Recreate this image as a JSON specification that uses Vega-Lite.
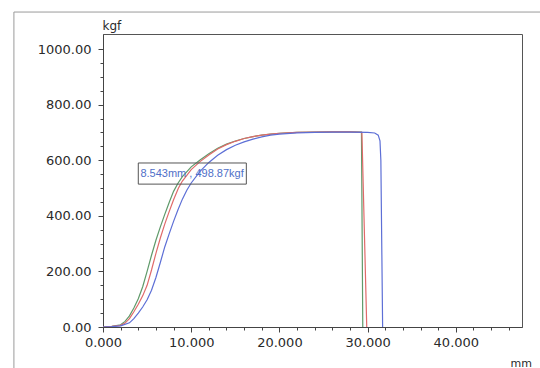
{
  "$schema": "https://vega.github.io/schema/vega-lite/v6.json",
  "width": 419,
  "height": 293,
  "autosize": {"type": "none"},
  "padding": {"left": 103, "top": 34, "right": 18, "bottom": 41},
  "background": "white",
  "config": {
    "view": {"stroke": "#555555", "strokeWidth": 1},
    "font": "DejaVu Sans",
    "axis": {
      "labelOverlap": false,
      "labelBound": false,
      "labelFlush": false,
      "labelFontSize": 13,
      "labelColor": "#2a2a2a",
      "tickColor": "#444444",
      "domainColor": "#444444",
      "grid": false,
      "titleFontWeight": "normal",
      "titleColor": "#2a2a2a",
      "titleAngle": 0,
      "titleAlign": "left",
      "titleBaseline": "alphabetic"
    },
    "axisX": {"labelPadding": 4, "titleFontSize": 11},
    "axisY": {"labelPadding": 7, "titleFontSize": 12}
  },
  "datasets": {
    "curves": [
      {"s": "green", "mm": 0, "kgf": 0}, {"s": "green", "mm": 1, "kgf": 2}, {"s": "green", "mm": 2, "kgf": 8}, {"s": "green", "mm": 2.5, "kgf": 20}, {"s": "green", "mm": 3, "kgf": 40}, {"s": "green", "mm": 3.5, "kgf": 68}, {"s": "green", "mm": 4, "kgf": 102}, {"s": "green", "mm": 4.5, "kgf": 145}, {"s": "green", "mm": 5, "kgf": 200}, {"s": "green", "mm": 5.5, "kgf": 258}, {"s": "green", "mm": 6, "kgf": 312}, {"s": "green", "mm": 6.5, "kgf": 360}, {"s": "green", "mm": 7, "kgf": 405}, {"s": "green", "mm": 7.5, "kgf": 448}, {"s": "green", "mm": 8, "kgf": 488}, {"s": "green", "mm": 8.5, "kgf": 517}, {"s": "green", "mm": 9, "kgf": 541}, {"s": "green", "mm": 10, "kgf": 576}, {"s": "green", "mm": 11, "kgf": 601}, {"s": "green", "mm": 12, "kgf": 623}, {"s": "green", "mm": 13, "kgf": 643}, {"s": "green", "mm": 14, "kgf": 658}, {"s": "green", "mm": 15, "kgf": 669}, {"s": "green", "mm": 16, "kgf": 678}, {"s": "green", "mm": 17, "kgf": 685}, {"s": "green", "mm": 18, "kgf": 690}, {"s": "green", "mm": 19, "kgf": 694}, {"s": "green", "mm": 20, "kgf": 697}, {"s": "green", "mm": 22, "kgf": 700}, {"s": "green", "mm": 24, "kgf": 701}, {"s": "green", "mm": 26, "kgf": 702}, {"s": "green", "mm": 28, "kgf": 702}, {"s": "green", "mm": 29.3, "kgf": 701}, {"s": "green", "mm": 29.45, "kgf": 0},
      {"s": "red", "mm": 0, "kgf": 0}, {"s": "red", "mm": 1, "kgf": 2}, {"s": "red", "mm": 2, "kgf": 6}, {"s": "red", "mm": 2.5, "kgf": 14}, {"s": "red", "mm": 3, "kgf": 30}, {"s": "red", "mm": 3.5, "kgf": 55}, {"s": "red", "mm": 4, "kgf": 82}, {"s": "red", "mm": 4.5, "kgf": 112}, {"s": "red", "mm": 5, "kgf": 150}, {"s": "red", "mm": 5.5, "kgf": 205}, {"s": "red", "mm": 6, "kgf": 265}, {"s": "red", "mm": 6.5, "kgf": 320}, {"s": "red", "mm": 7, "kgf": 370}, {"s": "red", "mm": 7.5, "kgf": 415}, {"s": "red", "mm": 8, "kgf": 458}, {"s": "red", "mm": 8.543, "kgf": 498.87}, {"s": "red", "mm": 9, "kgf": 525}, {"s": "red", "mm": 10, "kgf": 566}, {"s": "red", "mm": 11, "kgf": 595}, {"s": "red", "mm": 12, "kgf": 619}, {"s": "red", "mm": 13, "kgf": 640}, {"s": "red", "mm": 14, "kgf": 656}, {"s": "red", "mm": 15, "kgf": 668}, {"s": "red", "mm": 16, "kgf": 678}, {"s": "red", "mm": 17, "kgf": 685}, {"s": "red", "mm": 18, "kgf": 690}, {"s": "red", "mm": 19, "kgf": 694}, {"s": "red", "mm": 20, "kgf": 697}, {"s": "red", "mm": 22, "kgf": 700}, {"s": "red", "mm": 24, "kgf": 701}, {"s": "red", "mm": 26, "kgf": 702}, {"s": "red", "mm": 28, "kgf": 702}, {"s": "red", "mm": 29.35, "kgf": 700}, {"s": "red", "mm": 29.9, "kgf": 0},
      {"s": "blue", "mm": 0, "kgf": 0}, {"s": "blue", "mm": 1, "kgf": 1}, {"s": "blue", "mm": 2, "kgf": 4}, {"s": "blue", "mm": 3, "kgf": 15}, {"s": "blue", "mm": 3.5, "kgf": 30}, {"s": "blue", "mm": 4, "kgf": 50}, {"s": "blue", "mm": 4.5, "kgf": 72}, {"s": "blue", "mm": 5, "kgf": 98}, {"s": "blue", "mm": 5.5, "kgf": 132}, {"s": "blue", "mm": 6, "kgf": 178}, {"s": "blue", "mm": 6.5, "kgf": 232}, {"s": "blue", "mm": 7, "kgf": 288}, {"s": "blue", "mm": 7.5, "kgf": 335}, {"s": "blue", "mm": 8, "kgf": 380}, {"s": "blue", "mm": 8.5, "kgf": 422}, {"s": "blue", "mm": 9, "kgf": 460}, {"s": "blue", "mm": 9.5, "kgf": 492}, {"s": "blue", "mm": 10, "kgf": 518}, {"s": "blue", "mm": 11, "kgf": 560}, {"s": "blue", "mm": 12, "kgf": 592}, {"s": "blue", "mm": 13, "kgf": 618}, {"s": "blue", "mm": 14, "kgf": 638}, {"s": "blue", "mm": 15, "kgf": 654}, {"s": "blue", "mm": 16, "kgf": 666}, {"s": "blue", "mm": 17, "kgf": 676}, {"s": "blue", "mm": 18, "kgf": 684}, {"s": "blue", "mm": 19, "kgf": 690}, {"s": "blue", "mm": 20, "kgf": 694}, {"s": "blue", "mm": 22, "kgf": 698}, {"s": "blue", "mm": 24, "kgf": 700}, {"s": "blue", "mm": 26, "kgf": 701}, {"s": "blue", "mm": 28, "kgf": 701}, {"s": "blue", "mm": 30, "kgf": 700}, {"s": "blue", "mm": 30.8, "kgf": 698}, {"s": "blue", "mm": 31.2, "kgf": 690}, {"s": "blue", "mm": 31.4, "kgf": 670}, {"s": "blue", "mm": 31.5, "kgf": 600}, {"s": "blue", "mm": 31.7, "kgf": 0}
    ],
    "note": [{"x1": 4.0, "x2": 16.25, "y1": 514, "y2": 590, "xm": 10.1, "ym": 552, "label": "8.543mm , 498.87kgf"}]
  },
  "layer": [
    {
      "data": {"name": "curves"},
      "mark": {"type": "line", "strokeWidth": 1.2, "clip": true},
      "encoding": {
        "x": {
          "field": "mm", "type": "quantitative",
          "scale": {"domain": [0, 47.5], "nice": false, "zero": false},
          "axis": {
            "values": [0, 2, 4, 6, 8, 10, 12, 14, 16, 18, 20, 22, 24, 26, 28, 30, 32, 34, 36, 38, 40, 42, 44, 46],
            "tickCount": 100,
            "labelExpr": "datum.value % 10 === 0 ? format(datum.value, '.3f') : ''",
            "tickSize": {"condition": {"test": "datum.value % 10 === 0", "value": 5}, "value": 3},
            "title": "mm",
            "titleAnchor": null,
            "titleX": 407,
            "titleY": 39
          }
        },
        "y": {
          "field": "kgf", "type": "quantitative",
          "scale": {"domain": [0, 1054], "nice": false, "zero": false},
          "axis": {
            "values": [0, 50, 100, 150, 200, 250, 300, 350, 400, 450, 500, 550, 600, 650, 700, 750, 800, 850, 900, 950, 1000],
            "tickCount": 100,
            "labelExpr": "datum.value % 200 === 0 ? format(datum.value, '.2f') : ''",
            "tickSize": {"condition": {"test": "datum.value % 200 === 0", "value": 5}, "value": 3},
            "title": "kgf",
            "titleAnchor": null,
            "titleX": -1,
            "titleY": -5
          }
        },
        "color": {
          "field": "s", "type": "nominal",
          "scale": {"domain": ["green", "red", "blue"], "range": ["#5f9a6a", "#e06a6a", "#5d6fd6"]},
          "legend": null
        }
      }
    },
    {
      "data": {"name": "note"},
      "mark": {"type": "rect", "fill": null, "fillOpacity": 0, "stroke": "#555555", "strokeWidth": 1},
      "encoding": {
        "x": {"field": "x1", "type": "quantitative"},
        "x2": {"field": "x2"},
        "y": {"field": "y1", "type": "quantitative"},
        "y2": {"field": "y2"}
      }
    },
    {
      "data": {"name": "note"},
      "mark": {"type": "text", "font": "Liberation Sans", "fontSize": 11, "color": "#4f6fc8", "align": "center", "baseline": "middle"},
      "encoding": {
        "x": {"field": "xm", "type": "quantitative"},
        "y": {"field": "ym", "type": "quantitative"},
        "text": {"field": "label"}
      }
    },
    {
      "data": {"name": "note"},
      "mark": {"type": "rule", "stroke": "#9a9a9a", "strokeWidth": 1, "clip": false},
      "encoding": {
        "x": {"datum": -10.1, "type": "quantitative"},
        "y": {"datum": -300, "type": "quantitative"},
        "y2": {"datum": 1133}
      }
    },
    {
      "data": {"name": "note"},
      "mark": {"type": "rule", "stroke": "#9a9a9a", "strokeWidth": 1, "clip": false},
      "encoding": {
        "x": {"datum": -10.1, "type": "quantitative"},
        "x2": {"datum": 60},
        "y": {"datum": 1133, "type": "quantitative"}
      }
    }
  ]
}
